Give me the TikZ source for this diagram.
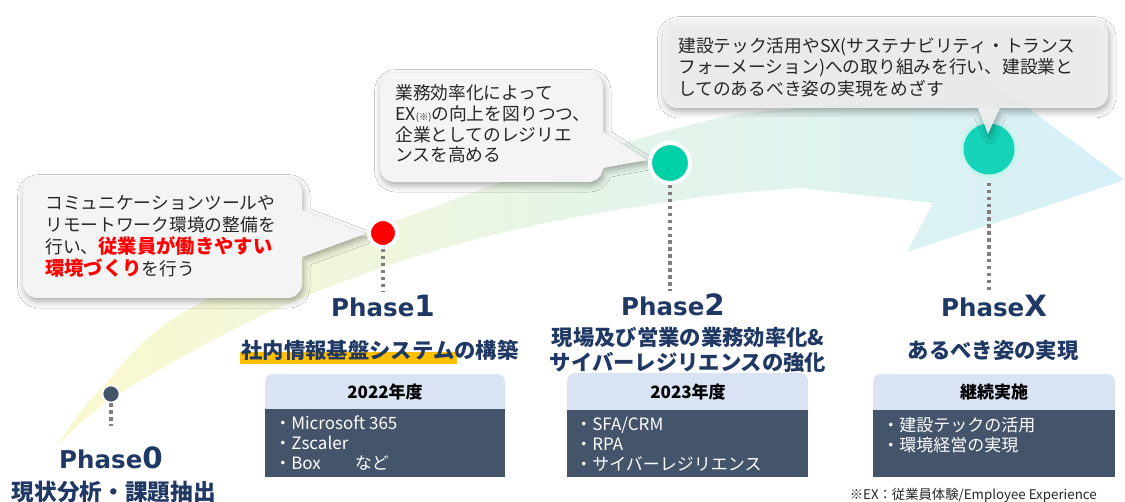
\documentclass[tikz,border=0pt]{standalone}
\usepackage{fontspec}
\setmainfont{Noto Sans CJK JP}
\newfontfamily\phfont{DejaVu Sans}
\usetikzlibrary{shadows.blur,calc}
\definecolor{navy}{HTML}{1F3864}
\definecolor{slate}{HTML}{44546A}
\definecolor{hdr}{HTML}{DAE3F3}
\definecolor{cfill}{HTML}{F4F4F4}
\definecolor{ctext}{HTML}{262626}
\definecolor{tealA}{HTML}{00D0A8}
\definecolor{tealB}{HTML}{14D3B8}
\definecolor{hl}{HTML}{FFC000}
\definecolor{dotgray}{HTML}{7F7F7F}
\definecolor{bandY}{HTML}{FBF8CF}
\definecolor{bandG}{HTML}{E6F5E8}
\definecolor{bandB}{HTML}{D6F0F8}
\definecolor{redA}{HTML}{FF0000}
\newcommand\redbold[1]{{\bfseries\fontsize{14.5}{16.5}\selectfont\color{redA}#1}}
\begin{document}
\begin{tikzpicture}[x=0.75pt,y=-0.75pt,
  callout/.style={fill=cfill, blur shadow={shadow xshift=1pt, shadow yshift=-2.5pt, shadow blur radius=5pt, shadow opacity=35}},
  ctxt/.style={text=ctext, align=left, inner sep=0, font=\fontsize{13.3}{16.5}\selectfont},
  dotline/.style={draw=dotgray, line width=2.4pt, dash pattern=on 2.6pt off 2.6pt},
  phase/.style={text=navy, inner sep=0, font=\phfont\bfseries\fontsize{18.4}{20}\selectfont},
  subt/.style={text=navy, inner sep=0, align=center, font=\bfseries\fontsize{16}{18.75}\selectfont},
  hdrtext/.style={text=black, inner sep=0, font=\bfseries\fontsize{12.75}{15}\selectfont},
  bodytext/.style={text=white, inner sep=0, align=left, font=\fontsize{12.75}{15}\selectfont}
]
\useasboundingbox (0,0) rectangle (1125,502);
\fill[white] (0,0) rectangle (1125,502);

% background curved arrow
\shade[left color=bandY, right color=bandB, middle color=bandG]
  plot[smooth, tension=0.6] coordinates {(57,447) (120,393) (290,303) (480,238) (680,200) (800,188)}
  -- (933,203) -- (907,252) -- (1125,180) -- (940,43) -- (945,100)
  -- plot[smooth, tension=0.6] coordinates {(945,100) (800,108) (690,125) (480,190) (200,303) (97,393) (57,447)}
  -- cycle;

% callout 1
\path[callout, rounded corners=11pt] (23,178) rectangle (302,298)
  [sharp corners] (302,210) -- (365,234) -- (302,257) -- cycle;
\node[ctxt, anchor=west] (c1) at (45,236)
  {コミュニケーションツールや\\リモートワーク環境の整備を\\行い、\redbold{従業員が働きやすい}\\\redbold{環境づくり}を行う};

% callout 2
\path[callout, rounded corners=11pt] (380,73) rectangle (603,182)
  [sharp corners] (603,132) -- (647,160) -- (603,168) -- cycle;
\node[ctxt, anchor=west, font=\fontsize{13.3}{15.5}\selectfont] (c2) at (395,124)
  {業務効率化によって\\EX{\fontsize{7}{7}\selectfont(※)}の向上を図りつつ、\\企業としてのレジリエ\\ンスを高める};

% dots
\node[circle, fill=slate, draw=white, line width=1.2pt, minimum size=12.75pt, inner sep=0] (d0) at (111,394) {};
\node[circle, fill=redA, draw=white, line width=3pt, minimum size=21pt, inner sep=0] (d1) at (383,233) {};
\node[circle, fill=tealA, draw=white, line width=3pt, minimum size=30pt, inner sep=0] (d2) at (670,163) {};
\node[circle, fill=tealB!25, minimum size=43pt, inner sep=0] (gx) at (989,149) {};
\node[circle, fill=tealB, minimum size=38.25pt, inner sep=0] (dx) at (989,149) {};

% callout X
\path[callout, fill opacity=0.88, rounded corners=11pt] (663,20) rectangle (1108,108)
  [sharp corners] (978,108) -- (988,134) -- (1000,108) -- cycle;
\node[ctxt, anchor=west, font=\fontsize{13.3}{16.1}\selectfont] (cx) at (678,67)
  {建設テック活用やSX(サステナビリティ・トランス\\フォーメーション)への取り組みを行い、建設業と\\してのあるべき姿の実現をめざす};

% phase titles
\node[phase, anchor=base] (t0) at (111,468) {Phase{\fontsize{22}{22}\selectfont 0}};
\node[phase, anchor=base] (t1) at (383,317) {Phase{\fontsize{22}{22}\selectfont 1}};
\node[phase, anchor=base] (t2) at (673,316) {Phase{\fontsize{22}{22}\selectfont 2}};
\node[phase, anchor=base] (tx) at (994,317) {Phase{\fontsize{22}{22}\selectfont X}};

% dotted connectors
\draw[dotline] (d0.south) -- ($(d0.south |- t0.north)+(0,-20)$);
\draw[dotline] (d1.south) -- ($(d1.south |- t1.north)+(0,-3)$);
\draw[dotline] (d2.south) -- ($(d2.south |- t2.north)+(0,-3)$);
\draw[dotline] ($(dx.south)+(0,8)$) -- ($(dx.south |- tx.north)+(0,-3)$);

% subtitles
\fill[hl] (240,352) rectangle (457,364);
\node[subt, font=\bfseries\fontsize{17}{20}\selectfont] (s0) at (114,492) {現状分析・課題抽出};
\node[subt] (s1) at (380,350) {社内情報基盤システムの構築};
\node[subt] (s2) at (688,349.5) {現場及び営業の業務効率化\&\\サイバーレジリエンスの強化};
\node[subt] (sx) at (993,350) {あるべき姿の実現};

% boxes
\fill[hdr, rounded corners=6pt] (265,374) rectangle (505,420);
\fill[slate] (265,409) rectangle (505,477);
\node[hdrtext] (h1) at (385,392) {2022年度};
\node[bodytext, anchor=west] (b1) at (274,443) {・Microsoft 365\\・Zscaler\\・Box　　など};

\fill[hdr, rounded corners=6pt] (567,373) rectangle (808,420);
\fill[slate] (567,410) rectangle (808,477);
\node[hdrtext] (h2) at (688,392) {2023年度};
\node[bodytext, anchor=west] (b2) at (575,444) {・SFA/CRM\\・RPA\\・サイバーレジリエンス};

\fill[hdr, rounded corners=6pt] (873,374) rectangle (1115,420);
\fill[slate] (873,410) rectangle (1115,477);
\node[hdrtext] (hx) at (994,392) {継続実施};
\node[bodytext, anchor=west] (bx) at (882,435) {・建設テックの活用\\・環境経営の実現};

% footnote
\node[anchor=east, inner sep=0, text=ctext, font=\fontsize{10}{12}\selectfont] (fn) at (1097,495) {※EX：従業員体験/Employee Experience};
\end{tikzpicture}
\end{document}
